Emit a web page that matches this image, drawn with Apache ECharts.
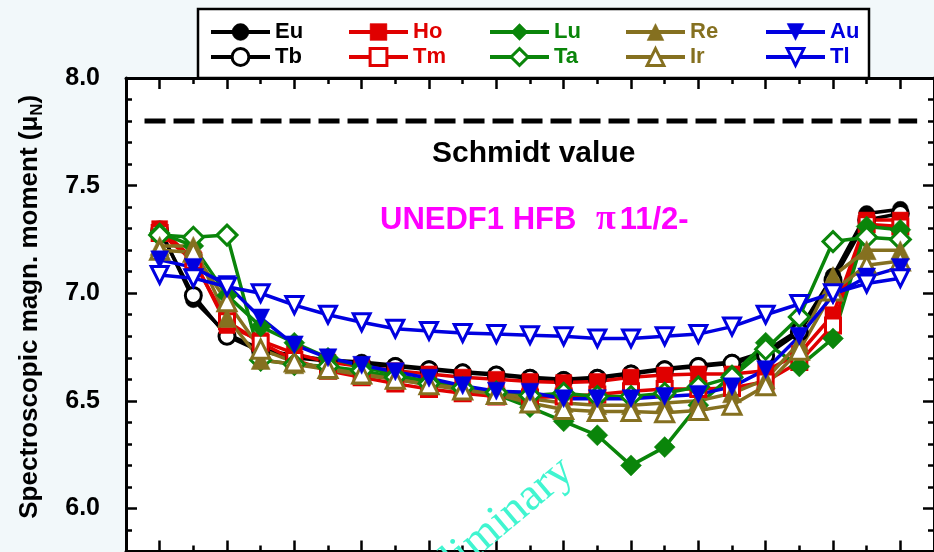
<!DOCTYPE html>
<html><head><meta charset="utf-8">
<script src="https://cdn.jsdelivr.net/npm/echarts@6/dist/echarts.min.js"></script>
<style>html,body{margin:0;padding:0;background:#f2f8fa}#c{width:934px;height:552px}</style>
</head><body><div id="c"></div>
<script>
// x positions (isotope index along the chain)
const xPos = [1,2,3,4,5,6,7,8,9,10,11,12,13,14,15,16,17,18,19,20,21,22,23];
const Eu = [7.30,6.97,6.81,6.74,6.71,6.69,6.68,6.665,6.65,6.635,6.625,6.61,6.60,6.61,6.63,6.65,6.665,6.68,6.73,6.83,7.08,7.37,7.39];
const Tb = [7.29,6.99,6.80,6.73,6.70,6.685,6.67,6.66,6.645,6.63,6.62,6.605,6.595,6.605,6.625,6.645,6.66,6.675,6.71,6.82,7.06,7.34,7.37];
const Ho = [7.30,7.16,6.85,6.78,6.72,6.68,6.66,6.64,6.625,6.61,6.60,6.59,6.585,6.59,6.61,6.62,6.625,6.625,6.64,6.72,6.90,7.34,7.34];
const Tm = [7.28,7.15,6.87,6.77,6.69,6.64,6.61,6.58,6.555,6.535,6.52,6.515,6.52,6.53,6.545,6.555,6.555,6.56,6.59,6.68,6.85,7.32,7.31];
const Lu = [7.28,7.22,6.99,6.845,6.77,6.70,6.66,6.62,6.59,6.56,6.53,6.47,6.405,6.34,6.20,6.285,6.48,6.62,6.77,6.66,6.79,7.31,7.295];
const Ta = [7.27,7.26,7.27,6.69,6.67,6.66,6.64,6.61,6.58,6.56,6.54,6.525,6.535,6.52,6.52,6.535,6.565,6.61,6.74,6.89,7.24,7.26,7.25];
const Re = [7.22,7.22,6.885,6.69,6.67,6.645,6.62,6.60,6.575,6.56,6.54,6.51,6.49,6.48,6.48,6.49,6.50,6.535,6.60,6.77,7.08,7.20,7.20];
const Ir = [7.20,7.19,6.96,6.74,6.68,6.65,6.625,6.60,6.575,6.55,6.53,6.49,6.46,6.45,6.45,6.445,6.455,6.48,6.57,6.735,7.01,7.13,7.15];
const Au = [7.155,7.12,7.04,6.885,6.76,6.70,6.665,6.635,6.605,6.57,6.545,6.54,6.51,6.51,6.51,6.52,6.53,6.565,6.645,6.80,6.99,7.075,7.12];
const Tl = [7.085,7.07,7.03,7.00,6.945,6.90,6.865,6.835,6.825,6.815,6.81,6.805,6.80,6.79,6.79,6.80,6.81,6.845,6.90,6.95,7.00,7.045,7.07];
const schmidtValue = 7.8;
const schmidtRange = [0.55, 23.5];
const yTickCats = ['5.8','5.9','6.0','6.1','6.2','6.3','6.4','6.5','6.6','6.7','6.8','6.9','7.0','7.1','7.2','7.3','7.4','7.5','7.6','7.7','7.8','7.9','8.0'];
const yTickLabels = ['6.0','6.5','7.0','7.5','8.0'];
const legendRows = [['Eu','Ho','Lu','Re','Au'],['Tb','Tm','Ta','Ir','Tl']];

const BLACK='#000000', RED='#e00000', GREEN='#0a850a', OLIVE='#857020', BLUE='#0000e0';
const FONT = '"Liberation Sans", Arial, sans-serif';
const styleOf = {
  Eu:{c:BLACK,s:'circle',z:16,open:false},
  Tb:{c:BLACK,s:'circle',z:16,open:true},
  Ho:{c:RED,s:'rect',z:16,open:false},
  Tm:{c:RED,s:'rect',z:15,open:true},
  Lu:{c:GREEN,s:'diamond',z:21,open:false},
  Ta:{c:GREEN,s:'diamond',z:20,open:true},
  Re:{c:OLIVE,s:'triangle',z:19,open:false},
  Ir:{c:OLIVE,s:'triangle',z:18,open:true},
  Au:{c:BLUE,s:'triangle',z:18,open:false,rot:180},
  Tl:{c:BLUE,s:'triangle',z:17,open:true,rot:180}
};
const dataOf = {Eu,Tb,Ho,Tm,Lu,Ta,Re,Ir,Au,Tl};

function mk(name){
  const st = styleOf[name];
  return {
    name, type:'line', xAxisIndex:0, yAxisIndex:0,
    data: xPos.map((x,i)=>[x, dataOf[name][i]]),
    symbol: st.s, symbolSize: st.z, symbolRotate: st.rot||0, showAllSymbol:true,
    lineStyle:{color:st.c, width:3.5},
    itemStyle:{color: st.open?'#ffffff':st.c, borderColor:st.c, borderWidth: st.open?3:0.5},
    emphasis:{disabled:true}, silent:true, animation:false
  };
}
const order = ['Eu','Tb','Ho','Tm','Lu','Ta','Re','Ir','Au','Tl'];
const series = order.map(mk);
series.unshift({
  name:'Schmidt', type:'line', xAxisIndex:0, yAxisIndex:0,
  data: schmidtRange.map(x=>[x, schmidtValue]), symbol:'none',
  lineStyle:{color:'#000', width:5, type:[21,8]}, silent:true, animation:false
});

const legendLeft = [209, 347, 488, 624, 764];
const legends = [];
legendRows.forEach((row,r)=>row.forEach((nm,c)=>{
  const st = styleOf[nm];
  legends.push({
    data:[nm], left:legendLeft[c], top: r===0?21:46, itemWidth:59, itemHeight:21, padding:0,
    selectedMode:false, symbolRotate:'inherit',
    lineStyle:{width:4, color:st.c},
    itemStyle:{color: st.open?'#ffffff':st.c, borderColor:st.c, borderWidth: st.open?3:0.5},
    textStyle:{color:st.c, fontSize:22, fontWeight:'bold', fontFamily:FONT}
  });
}));

const tickStyle = {color:'#000', width:2.5};
const xBase = (pos)=>({
  type:'value', min:0, max:24, interval:2, position:pos,
  axisLine:{show:true, onZero:false, lineStyle:{color:'#000', width:3}},
  axisTick:{show:true, inside:true, length:6, lineStyle:tickStyle},
  minorTick:{show:true, splitNumber:2, length:11, lineStyle:tickStyle},
  axisLabel:{show:false}, splitLine:{show:false}, minorSplitLine:{show:false}
});
const isMajor = (i,v)=>yTickLabels.indexOf(v)>=0;
const yVal = (pos, withName)=>{
  const o = {
    type:'value', min:5.8, max:8.0, interval:0.1, position:pos,
    axisLine:{show:true, onZero:false, lineStyle:{color:'#000', width:3}},
    axisTick:{show:true, inside:true, length:6, lineStyle:tickStyle},
    axisLabel:{show:false}, splitLine:{show:false}
  };
  if(withName){
    o.name = '{n|Spectroscopic magn. moment (μ}{s|N}{n|)}';
    o.nameLocation='middle'; o.nameRotate=90; o.nameGap=80;
    o.nameTextStyle={color:'#000', fontFamily:FONT, fontSize:26, fontWeight:'bold', padding:[0,0,0,16],
      rich:{n:{fontSize:26, fontWeight:'bold', fontFamily:FONT, lineHeight:32, color:'#000'},
            s:{fontSize:17, fontWeight:'bold', fontFamily:FONT, lineHeight:14, verticalAlign:'bottom', color:'#000'}}};
  }
  return o;
};
const yCat = (pos, labels)=>({
  type:'category', data:yTickCats, boundaryGap:false, position:pos,
  axisLine:{show:false, onZero:false},
  axisTick:{show:true, inside:true, length:11, interval:isMajor, lineStyle:tickStyle},
  axisLabel:{show:labels, interval:isMajor, margin:26, color:'#000', fontSize:25, fontWeight:'bold', fontFamily:FONT},
  splitLine:{show:false}
});

const chart = echarts.init(document.getElementById('c'), null, {renderer:'canvas'});
chart.setOption({
  backgroundColor:'#f2f8fa',
  animation:false,
  grid:{left:126, right:-3, top:78, bottom:0.5, show:true, backgroundColor:'#ffffff', borderWidth:0},
  xAxis:[xBase('bottom'), xBase('top')],
  yAxis:[yVal('left', true), yCat('left', true), yVal('right', false), yCat('right', false)],
  legend: legends,
  graphic:[
    {type:'rect', z:-1, zlevel:0, shape:{x:198, y:9, width:671, height:69}, style:{fill:'#ffffff', stroke:'#000', lineWidth:2.5}},
    {type:'text', x:432, y:154, z:50, style:{text:'Schmidt value', font:'bold 30px '+FONT, fill:'#000', verticalAlign:'middle'}},
    {type:'text', x:380, y:220, z:50, style:{
      text:'{a|UNEDF1 HFB }{p|π}{a|11/2-}', verticalAlign:'middle',
      rich:{a:{font:'bold 31px '+FONT, fill:'#ff00ff'}, p:{font:'bold 36px "Liberation Serif", "Times New Roman", serif', fill:'#ff00ff', padding:[0,4,0,11]}}}},
    {type:'text', x:553, y:448, rotation:40*Math.PI/180, z:60, style:{
      text:'Preliminary', align:'right', verticalAlign:'alphabetic', font:'46px "Liberation Serif", "Times New Roman", serif', fill:'#40f5d0'}}
  ],
  series
});
</script></body></html>
